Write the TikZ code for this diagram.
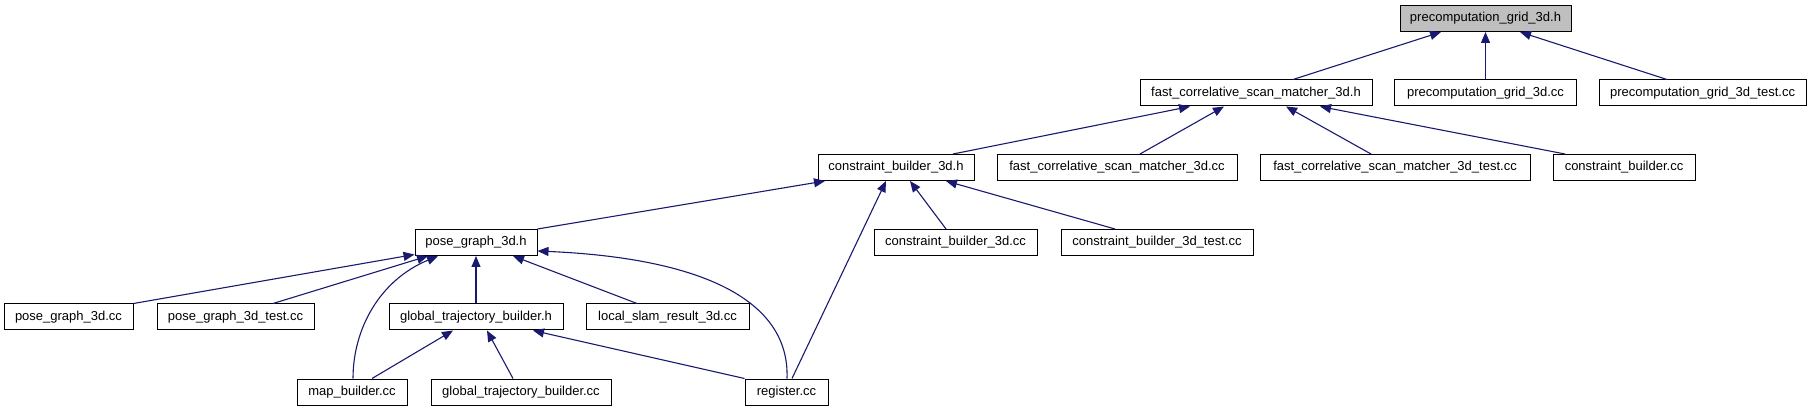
\documentclass[tikz,border=0pt]{standalone}
\usepackage{fontspec}
\setmainfont{Liberation Sans}
\usetikzlibrary{arrows.meta}

\definecolor{Edgeblue}{rgb}{0.1,0.1,0.44}
\definecolor{Rootgray}{rgb}{0.75,0.75,0.75}

\tikzset{
  filebox/.style={draw=black,line width=1pt,fill=white,minimum height=26pt,inner sep=0pt,
    font=\fontsize{13pt}{15pt}\selectfont,text height=9.5pt,text depth=2.5pt},
  incl/.style={draw=Edgeblue,line width=1.1pt,-{Triangle[length=11pt,width=9pt]}}
}

\newcommand{\drawfile}[6][white]{% Parameters: fill, name, x, y, width, label
  \node[filebox,fill=#1,minimum width=#5pt] (#2) at (#3,#4) {#6};
}

\begin{document}
\begin{tikzpicture}[x=1pt,y=-1pt]
    \useasboundingbox (0,0) rectangle (1811,411);
    % row 1
    \drawfile[Rootgray]{precomph}{1485.5}{18.5}{171}{precomputation\_grid\_3d.h}
    % row 2
    \drawfile{fcsmh}{1256}{93}{232}{fast\_correlative\_scan\_matcher\_3d.h}
    \drawfile{precompcc}{1485.5}{93}{182}{precomputation\_grid\_3d.cc}
    \drawfile{precomptest}{1702.5}{93}{207}{precomputation\_grid\_3d\_test.cc}
    % row 3
    \drawfile{cbh}{896}{167.5}{156}{constraint\_builder\_3d.h}
    \drawfile{fcsmcc}{1117}{167.5}{240}{fast\_correlative\_scan\_matcher\_3d.cc}
    \drawfile{fcsmtest}{1395}{167.5}{270}{fast\_correlative\_scan\_matcher\_3d\_test.cc}
    \drawfile{cbuildercc}{1624}{167.5}{142}{constraint\_builder.cc}
    % row 4
    \drawfile{pgh}{476}{242.5}{122}{pose\_graph\_3d.h}
    \drawfile{cbcc}{955.5}{242.5}{163}{constraint\_builder\_3d.cc}
    \drawfile{cbtest}{1157}{242.5}{192}{constraint\_builder\_3d\_test.cc}
    % row 5
    \drawfile{pgcc}{68.5}{317}{129}{pose\_graph\_3d.cc}
    \drawfile{pgtest}{235.5}{317}{157}{pose\_graph\_3d\_test.cc}
    \drawfile{gtbh}{476}{317}{174}{global\_trajectory\_builder.h}
    \drawfile{lsrcc}{667.5}{317}{163}{local\_slam\_result\_3d.cc}
    % row 6
    \drawfile{mapcc}{352}{392}{110}{map\_builder.cc}
    \drawfile{gtbcc}{521}{392}{180}{global\_trajectory\_builder.cc}
    \drawfile{registercc}{786.5}{392}{83}{register.cc}

    % includes of precomputation_grid_3d.h
    \draw[incl] ([xshift=37pt]fcsmh.north) -- ([xshift=-44.5pt]precomph.south);
    \draw[incl] (precompcc.north) -- (precomph.south);
    \draw[incl] ([xshift=-35.5pt]precomptest.north) -- ([xshift=34.5pt]precomph.south);
    % includes of fast_correlative_scan_matcher_3d.h
    \draw[incl] ([xshift=57pt]cbh.north) -- ([xshift=-66pt]fcsmh.south);
    \draw[incl] ([xshift=23pt]fcsmcc.north) -- ([xshift=-32pt]fcsmh.south);
    \draw[incl] ([xshift=-24pt]fcsmtest.north) -- ([xshift=30pt]fcsmh.south);
    \draw[incl] ([xshift=-59pt]cbuildercc.north) -- ([xshift=64pt]fcsmh.south);
    % includes of constraint_builder_3d.h
    \draw[incl] (pgh.north east) -- ([xshift=-71pt]cbh.south);
    \draw[incl] ([xshift=-9.5pt]cbcc.north) -- ([xshift=14pt]cbh.south);
    \draw[incl] ([xshift=-42pt]cbtest.north) -- ([xshift=50pt]cbh.south);
    \draw[incl] ([xshift=5.5pt]registercc.north) -- ([xshift=-10pt]cbh.south);
    % includes of pose_graph_3d.h
    \draw[incl] (pgcc.north east) -- ([yshift=1.5pt]pgh.south west);
    \draw[incl] ([xshift=37.5pt]pgtest.north) -- ([xshift=-48pt]pgh.south);
    \draw[incl] ([xshift=1pt]mapcc.north) .. controls +(0,-50) and +(-58,24) .. ([xshift=-38pt]pgh.south);
    \draw[incl] (gtbh.north) -- (pgh.south);
    \draw[incl] ([xshift=-30.5pt]lsrcc.north) -- ([xshift=37pt]pgh.south);
    \draw[incl] ([xshift=0.5pt]registercc.north) .. controls +(3,-79) and +(163,7) .. ([yshift=-8.5pt]pgh.east);
    % includes of global_trajectory_builder.h
    \draw[incl] ([xshift=20pt]mapcc.north) -- ([xshift=-23pt]gtbh.south);
    \draw[incl] ([xshift=-8pt]gtbcc.north) -- ([xshift=11pt]gtbh.south);
    \draw[incl] (registercc.north west) -- ([xshift=57pt]gtbh.south);
  \end{tikzpicture}
\end{document}
